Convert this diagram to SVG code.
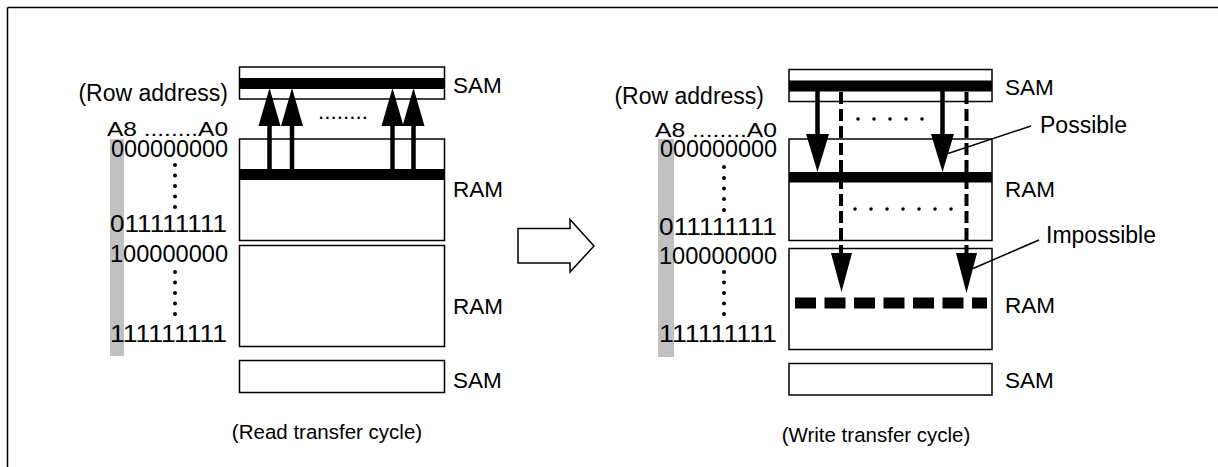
<svg xmlns="http://www.w3.org/2000/svg" width="1218" height="467" viewBox="0 0 1218 467">
<style>
.box{fill:#fff;stroke:#000;stroke-width:1.5}
.bar{fill:#000}
.gray{fill:#c0c0c0}
.lbl{font-family:"Liberation Sans",Arial,sans-serif;font-size:22.5px;fill:#000}
.big{font-family:"Liberation Sans",Arial,sans-serif;font-size:23px;fill:#000}
.addr{font-family:"Liberation Sans",Arial,sans-serif;font-size:20px;fill:#000}
.cap{font-family:"Liberation Sans",Arial,sans-serif;font-size:20.5px;fill:#000}
.shaft{stroke:#000;stroke-width:4.5;fill:none}
.dash{stroke:#000;stroke-width:4;fill:none;stroke-dasharray:12 5}
.head{fill:#000}
.lead{stroke:#000;stroke-width:1.5;fill:none}
.dot{fill:#000}
</style>
<g id="frame">
<line x1="7.5" y1="7.5" x2="1218" y2="7.5" stroke="#000" stroke-width="1.5"/>
<line x1="7.5" y1="7.5" x2="7.5" y2="467" stroke="#000" stroke-width="1.5"/>
</g>

<!-- Left panel -->
<g id="left-address">
<rect class="gray" x="110" y="139" width="14" height="217"/>
<text class="big" x="228" y="101" text-anchor="end">(Row address)</text>
<text class="addr" x="107" y="136" textLength="121" lengthAdjust="spacingAndGlyphs">A8 ........A0</text>
<text class="big" x="111" y="157" textLength="117" lengthAdjust="spacingAndGlyphs">000000000</text>
<text class="big" x="110" y="232" textLength="117" lengthAdjust="spacingAndGlyphs">011111111</text>
<text class="big" x="110" y="262" textLength="118" lengthAdjust="spacingAndGlyphs">100000000</text>
<text class="big" x="110" y="342" textLength="117" lengthAdjust="spacingAndGlyphs">111111111</text>
<circle class="dot" cx="175" cy="165" r="2"/><circle class="dot" cx="175" cy="175.5" r="2"/><circle class="dot" cx="175" cy="186" r="2"/><circle class="dot" cx="175" cy="196.5" r="2"/><circle class="dot" cx="175" cy="207" r="2"/>
<circle class="dot" cx="175" cy="272" r="2"/><circle class="dot" cx="175" cy="282.5" r="2"/><circle class="dot" cx="175" cy="293" r="2"/><circle class="dot" cx="175" cy="303.5" r="2"/><circle class="dot" cx="175" cy="314" r="2"/>
</g>
<g id="left-sam-top">
<rect class="box" x="239.5" y="67" width="205" height="32"/>
<rect class="bar" x="239.5" y="78" width="205" height="11"/>
<text class="lbl" x="453" y="93">SAM</text>
</g>
<g id="left-ram-upper">
<rect class="box" x="239.5" y="139" width="205" height="101.5"/>
<rect class="bar" x="239.5" y="169" width="205" height="11"/>
<text class="lbl" x="453" y="197">RAM</text>
</g>
<g id="left-ram-lower">
<rect class="box" x="239.5" y="245.5" width="205" height="101"/>
<text class="lbl" x="453" y="314">RAM</text>
</g>
<g id="left-sam-bottom">
<rect class="box" x="239.5" y="360.5" width="205" height="32"/>
<text class="lbl" x="453" y="388">SAM</text>
</g>
<text class="cap" x="327" y="439" text-anchor="middle">(Read transfer cycle)</text>

<!-- transition arrow -->
<g id="transition-arrow">
<polygon points="518,228.5 570,228.5 570,219.5 594,246 570,272 570,263 518,263" fill="#fff" stroke="#000" stroke-width="1.5"/>
</g>

<!-- Right panel -->
<g id="right-address">
<rect class="gray" x="658" y="139" width="16" height="218"/>
<text class="big" x="764" y="104" text-anchor="end">(Row address)</text>
<text class="addr" x="655" y="137" textLength="122" lengthAdjust="spacingAndGlyphs">A8 ........A0</text>
<text class="big" x="660" y="157" textLength="117" lengthAdjust="spacingAndGlyphs">000000000</text>
<text class="big" x="659" y="235" textLength="118" lengthAdjust="spacingAndGlyphs">011111111</text>
<text class="big" x="659" y="264" textLength="118" lengthAdjust="spacingAndGlyphs">100000000</text>
<text class="big" x="659" y="342" textLength="118" lengthAdjust="spacingAndGlyphs">111111111</text>
<circle class="dot" cx="724" cy="167" r="2"/><circle class="dot" cx="724" cy="178" r="2"/><circle class="dot" cx="724" cy="188.5" r="2"/><circle class="dot" cx="724" cy="199" r="2"/><circle class="dot" cx="724" cy="210" r="2"/>
<circle class="dot" cx="724" cy="272" r="2"/><circle class="dot" cx="724" cy="282.5" r="2"/><circle class="dot" cx="724" cy="293" r="2"/><circle class="dot" cx="724" cy="303.5" r="2"/><circle class="dot" cx="724" cy="314" r="2"/>
</g>
<g id="right-sam-top">
<rect class="box" x="789" y="69.5" width="203" height="32"/>
<rect class="bar" x="789" y="80.5" width="203" height="11"/>
<text class="lbl" x="1005" y="95">SAM</text>
</g>
<g id="right-ram-upper">
<rect class="box" x="789" y="139" width="203" height="101.5"/>
<rect class="bar" x="789" y="172" width="203" height="10.5"/>
<text class="lbl" x="1005" y="197">RAM</text>
</g>
<g id="right-ram-lower">
<rect class="box" x="789" y="248.5" width="203" height="101"/>
<line x1="795" y1="303" x2="987" y2="303" stroke="#000" stroke-width="11" stroke-dasharray="21 8.5"/>
<text class="lbl" x="1005" y="313">RAM</text>
</g>
<g id="right-sam-bottom">
<rect class="box" x="789" y="363.5" width="203" height="31.5"/>
<text class="lbl" x="1005" y="388">SAM</text>
</g>
<g id="labels">
<text class="big" x="1040" y="133">Possible</text>
<text class="big" x="1046" y="243">Impossible</text>
</g>
<text class="cap" x="876" y="442" text-anchor="middle">(Write transfer cycle)</text>

<g id="connectors">
<line class="shaft" x1="269.5" y1="169" x2="269.5" y2="124"/>
<polygon class="head" points="269.5,88 258.5,126 280.5,126"/>
<line class="shaft" x1="292" y1="169" x2="292" y2="124"/>
<polygon class="head" points="292,88 281,126 303,126"/>
<line class="shaft" x1="392.5" y1="169" x2="392.5" y2="124"/>
<polygon class="head" points="392.5,88 381.5,126 403.5,126"/>
<line class="shaft" x1="413.5" y1="169" x2="413.5" y2="124"/>
<polygon class="head" points="413.5,88 402.5,126 424.5,126"/>
<text class="lbl" x="318" y="119" textLength="50" lengthAdjust="spacing">........</text>
<line class="shaft" x1="817.5" y1="91" x2="817.5" y2="136"/>
<polygon class="head" points="817.5,172 806,134 829,134"/>
<line class="shaft" x1="942.5" y1="91" x2="942.5" y2="136"/>
<polygon class="head" points="942.5,172 931,134 954,134"/>
<line class="dash" x1="841" y1="92" x2="841" y2="255"/>
<polygon class="head" points="841.5,292 831,253 852,253"/>
<line class="dash" x1="966.5" y1="92" x2="966.5" y2="255"/>
<polygon class="head" points="966.5,293 956,253 977,253"/>
<circle class="dot" cx="858" cy="119" r="1.8"/><circle class="dot" cx="874" cy="119" r="1.8"/><circle class="dot" cx="890" cy="119" r="1.8"/><circle class="dot" cx="906" cy="119" r="1.8"/><circle class="dot" cx="922" cy="119" r="1.8"/>
<circle class="dot" cx="855" cy="209" r="1.8"/><circle class="dot" cx="871" cy="209" r="1.8"/><circle class="dot" cx="887" cy="209" r="1.8"/><circle class="dot" cx="903" cy="209" r="1.8"/><circle class="dot" cx="919" cy="209" r="1.8"/><circle class="dot" cx="935" cy="209" r="1.8"/><circle class="dot" cx="951" cy="209" r="1.8"/>
<line class="lead" x1="1031" y1="126" x2="948" y2="153.5"/>
<line class="lead" x1="1039" y1="240" x2="973" y2="268.5"/>
</g>
</svg>
